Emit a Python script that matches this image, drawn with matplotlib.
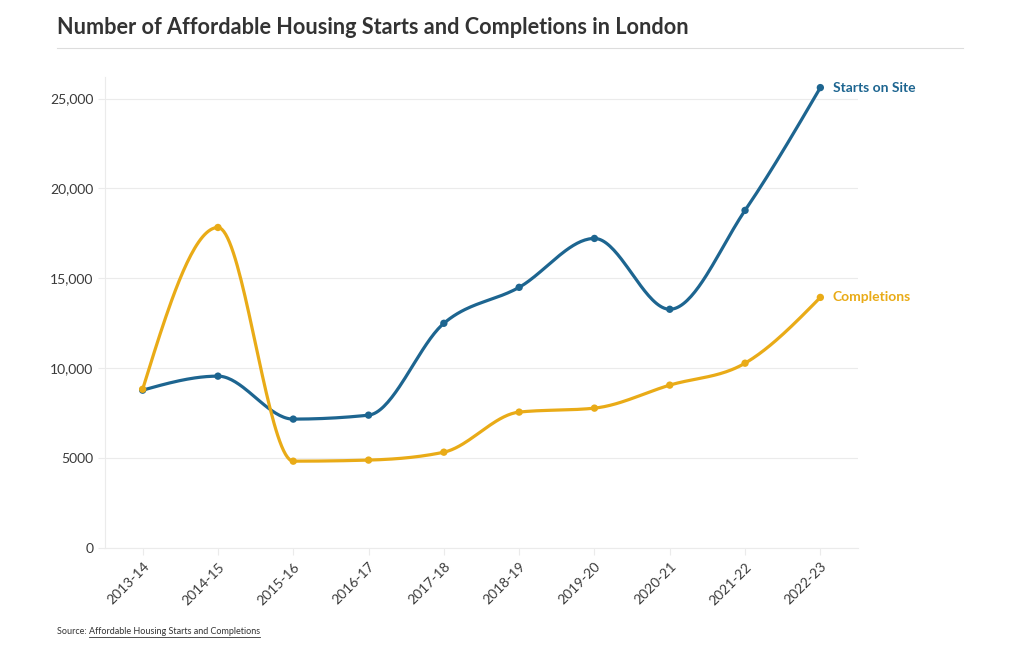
import numpy as np
import matplotlib
matplotlib.use("Agg")
import matplotlib.pyplot as plt
from matplotlib.ticker import FuncFormatter

YEARS = ["2013-14", "2014-15", "2015-16", "2016-17", "2017-18",
         "2018-19", "2019-20", "2020-21", "2021-22", "2022-23"]
STARTS = [8780, 9560, 7170, 7390, 12500, 14500, 17220, 13280, 18780, 25610]
COMPLETIONS = [8830, 17830, 4830, 4890, 5330, 7560, 7780, 9060, 10280, 13940]

BLUE = "#1d6590"
GOLD = "#e9ab17"
TEXT = "#333333"
GRID = "#ebebeb"

plt.rcParams["font.family"] = ["Lato", "DejaVu Sans"]


def monotone_curve(y, n=40):
    # d3.curveMonotoneX on evenly spaced x (Fritsch-Carlson style tangents)
    y = np.asarray(y, float)
    s = np.diff(y)
    m = np.zeros_like(y)
    for i in range(1, len(y) - 1):
        s0, s1 = s[i - 1], s[i]
        p = (s0 + s1) / 2
        m[i] = (np.sign(s0) + np.sign(s1)) * min(abs(s0), abs(s1), 0.5 * abs(p))
    m[0] = (3 * s[0] - m[1]) / 2
    m[-1] = (3 * s[-1] - m[-2]) / 2
    xs, ys = [], []
    t = np.linspace(0, 1, n)
    for i in range(len(y) - 1):
        h00 = 2 * t**3 - 3 * t**2 + 1
        h10 = t**3 - 2 * t**2 + t
        h01 = -2 * t**3 + 3 * t**2
        h11 = t**3 - t**2
        xs.append(i + t)
        ys.append(h00 * y[i] + h10 * m[i] + h01 * y[i + 1] + h11 * m[i + 1])
    return np.concatenate(xs), np.concatenate(ys)


fig = plt.figure(figsize=(10.2, 6.5), dpi=100)
ax = fig.add_axes([105 / 1020, 1 - 548 / 650, (858 - 105) / 1020, (548 - 77) / 650])

x = np.arange(len(YEARS))
for vals, col in [(STARTS, BLUE), (COMPLETIONS, GOLD)]:
    cx, cy = monotone_curve(vals)
    ax.plot(cx, cy, color=col, lw=2.3, solid_capstyle="round", zorder=3)
    ax.scatter(x, vals, s=28, color=col, zorder=4, edgecolors="none")

ax.set_xlim(-0.5, len(YEARS) - 0.5)
ax.set_ylim(0, 26200)
ax.set_yticks([0, 5000, 10000, 15000, 20000, 25000])
ax.yaxis.set_major_formatter(FuncFormatter(
    lambda v, _: f"{int(v):,}" if v >= 10000 else f"{int(v)}"))
ax.set_xticks(x)
ax.set_xticklabels(YEARS, rotation=45, ha="right", rotation_mode="anchor")
ax.grid(axis="y", color=GRID, lw=0.8)
ax.set_axisbelow(True)
for side in ["top", "right"]:
    ax.spines[side].set_visible(False)
for side in ["left", "bottom"]:
    ax.spines[side].set_color(GRID)
    ax.spines[side].set_linewidth(0.8)
ax.tick_params(axis="both", colors=GRID, labelcolor="#3a3a3a", labelsize=10, length=5, width=0.8)
ax.tick_params(axis="x", pad=4)

ax.annotate("Starts on Site", (x[-1], STARTS[-1]), xytext=(9, 0), textcoords="offset points",
            color=BLUE, fontsize=10, fontweight="bold", va="center", clip_on=False)
ax.annotate("Completions", (x[-1], COMPLETIONS[-1]), xytext=(9, 0), textcoords="offset points",
            color=GOLD, fontsize=10, fontweight="bold", va="center", clip_on=False)

fig.text(57 / 1020, 1 - 27 / 650, "Number of Affordable Housing Starts and Completions in London",
         fontsize=15.6, fontweight="bold", color=TEXT, va="center", ha="left")
fig.add_artist(plt.Line2D([57 / 1020, 963 / 1020], [1 - 48 / 650] * 2, color="#dddddd", lw=0.8))

src = fig.text(57 / 1020, 1 - 631 / 650, "Source: ", fontsize=6.5, color=TEXT, va="center")
fig.canvas.draw()
bb = src.get_window_extent()
link = fig.text(bb.x1 / 1020, 1 - 631 / 650, "Affordable Housing Starts and Completions",
                fontsize=6.5, color=TEXT, va="center")
fig.canvas.draw()
lb = link.get_window_extent()
fig.add_artist(plt.Line2D([lb.x0 / 1020, lb.x1 / 1020], [(lb.y0 - 1) / 650] * 2, color=TEXT, lw=0.6))

fig.savefig("out.png", dpi=100)
